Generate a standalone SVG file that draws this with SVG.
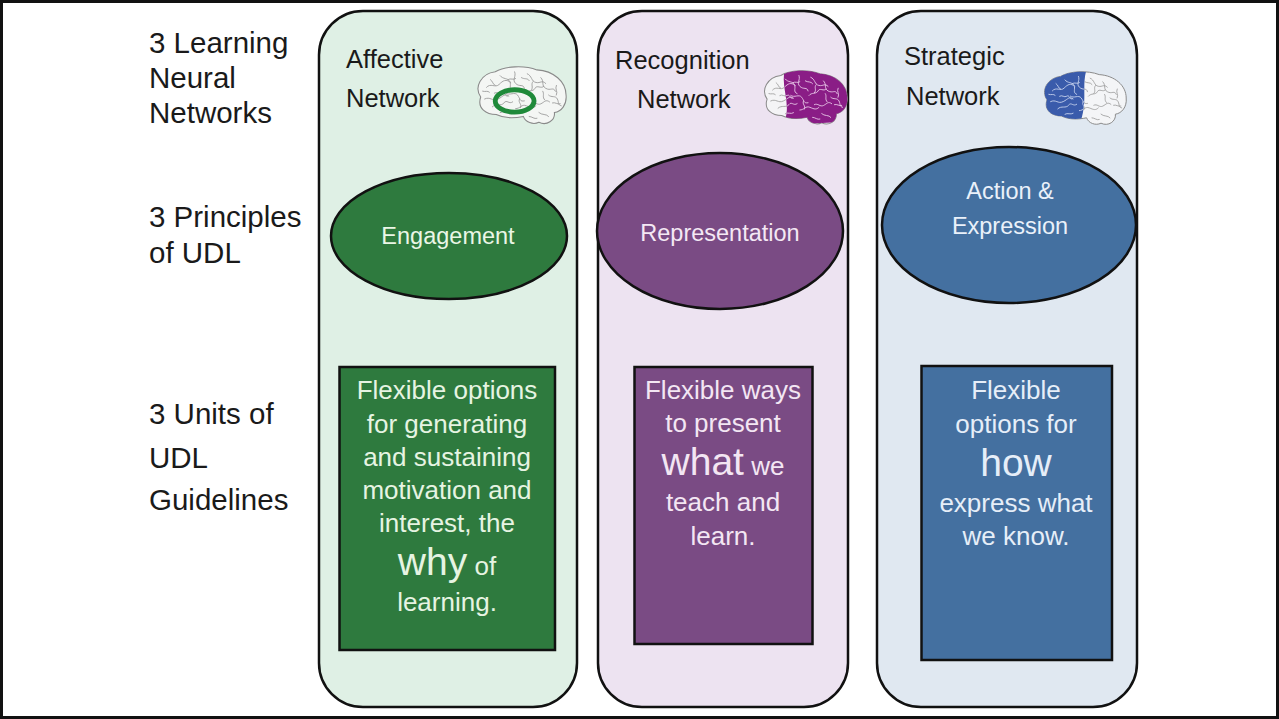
<svg xmlns="http://www.w3.org/2000/svg" width="1279" height="719" viewBox="0 0 1279 719">
<style>
.lbl{font-family:"Liberation Sans",Arial,sans-serif;font-size:29.5px;fill:#1a1a1a}
.net{font-family:"Liberation Sans",Arial,sans-serif;font-size:25.5px;fill:#1a1a1a}
.ell{font-family:"Liberation Sans",Arial,sans-serif;font-size:23.5px;text-anchor:middle}
.box{font-family:"Liberation Sans",Arial,sans-serif;font-size:26px;text-anchor:middle}
.big{font-size:39px}
.col{stroke:#111;stroke-width:2.5}
.shape{stroke:#111;stroke-width:2.5}
.gyri{fill:none;stroke:#9a9a9a;stroke-width:0.9;stroke-linecap:round}
</style>
<defs>
<path id="brainOutline" d="M10,32 C3,22 10,8 25,6 C35,0 55,-1 68,4 C85,5 98,16 98,30 C99,40 93,47 86,48 C87,56 78,62 70,58 C64,61 56,58 54,52 C44,54 34,54 26,50 C16,50 6,44 10,32 Z"/>
<clipPath id="brainClip"><use href="#brainOutline"/></clipPath>
<clipPath id="recRegion"><path d="M30,-2 C24,18 36,34 30,54 C40,60 60,60 100,56 L100,-2 Z"/></clipPath>
<clipPath id="strRegion"><path d="M-2,-2 L54,-2 C48,18 56,34 46,60 L-2,60 Z"/></clipPath>
<g id="gyriPaths">
<path d="M16,22 c4,-5 9,1 13,-3 s7,-6 12,-2"/>
<path d="M30,10 c3,4 8,2 10,6 s-2,8 3,10"/>
<path d="M45,6 c2,5 -3,8 1,12 s8,0 9,5"/>
<path d="M58,8 c5,2 4,8 9,9 s6,-3 10,1"/>
<path d="M72,12 c4,4 0,8 5,11 s8,-2 10,3"/>
<path d="M14,34 c6,-3 8,3 14,0 s6,-6 11,-3"/>
<path d="M22,42 c4,-4 9,0 12,-4 s5,2 9,-1"/>
<path d="M36,28 c4,3 9,-2 12,2 s2,7 7,6"/>
<path d="M56,28 c3,-4 8,-1 10,-5 s6,1 9,-2"/>
<path d="M62,38 c4,-2 6,3 10,1 s5,-5 9,-2"/>
<path d="M80,30 c3,3 7,0 9,4 s0,6 4,7"/>
<path d="M46,44 c5,0 6,-5 11,-3 s7,3 10,0"/>
<path d="M70,48 c3,3 8,1 10,4"/>
<path d="M88,20 c-2,4 2,6 0,10"/>
<path d="M20,14 c3,2 2,5 5,6"/>
<path d="M50,34 c-2,4 3,5 1,9"/>
<path d="M24,28 c3,-2 5,2 8,0 s3,4 6,3"/>
<path d="M38,14 c3,-2 6,1 8,-1"/>
<path d="M64,16 c-3,3 1,6 -2,9"/>
<path d="M84,38 c3,-1 5,2 8,1"/>
<path d="M74,26 c2,3 -1,6 2,9"/>
<path d="M30,48 c3,-2 6,1 9,-1"/>
<path d="M60,52 c3,0 5,3 8,2"/>
<path d="M12,26 c3,1 5,-1 7,1"/>
<path d="M52,12 c3,2 6,0 8,3"/>
</g>
</defs>

<rect x="1.5" y="1.5" width="1276" height="716" fill="#ffffff" stroke="#111" stroke-width="3"/>

<g id="row-labels">
<text class="lbl" x="149" y="53">3 Learning</text>
<text class="lbl" x="149" y="88">Neural</text>
<text class="lbl" x="149" y="123">Networks</text>
<text class="lbl" x="149" y="227">3 Principles</text>
<text class="lbl" x="149" y="263">of UDL</text>
<text class="lbl" x="149" y="424">3 Units of</text>
<text class="lbl" x="149" y="468">UDL</text>
<text class="lbl" x="149" y="510">Guidelines</text>
</g>

<g id="col-affective">
<rect class="col" x="319" y="11" width="258" height="696" rx="44" fill="#dff0e5"/>
<text class="net" x="346" y="68">Affective</text>
<text class="net" x="346" y="107">Network</text>
<g transform="translate(471,66) scale(0.97)">
<use href="#brainOutline" fill="#f4f6f4" stroke="#8a8a8a" stroke-width="1.1"/>
<g clip-path="url(#brainClip)"><use href="#gyriPaths" class="gyri"/></g>
<ellipse cx="45" cy="36" rx="20" ry="11.5" fill="none" stroke="#1f8a3a" stroke-width="5"/>
</g>
</g>

<g id="col-recognition">
<rect class="col" x="598" y="11" width="250" height="696" rx="44" fill="#ede3f1"/>
<text class="net" x="615" y="69">Recognition</text>
<text class="net" x="637" y="108">Network</text>
<g transform="translate(758,70) scale(0.91)">
<use href="#brainOutline" fill="#f4f4f6" stroke="#8a8a8a" stroke-width="1.1"/>
<g clip-path="url(#brainClip)">
<use href="#gyriPaths" class="gyri"/>
<path d="M30,-2 C24,18 36,34 30,54 C40,60 60,60 100,56 L100,-2 Z" fill="#8a1d86"/>
<g clip-path="url(#recRegion)">
<use href="#gyriPaths" fill="none" stroke="#e8c8e8" stroke-width="1" stroke-linecap="round"/>
</g>
</g>
</g>
</g>

<g id="col-strategic">
<rect class="col" x="877" y="11" width="260" height="696" rx="44" fill="#e0e8f1"/>
<text class="net" x="904" y="65">Strategic</text>
<text class="net" x="906" y="105">Network</text>
<g transform="translate(1038,71) scale(0.9)">
<use href="#brainOutline" fill="#f4f5f7" stroke="#8a8a8a" stroke-width="1.1"/>
<g clip-path="url(#brainClip)">
<use href="#gyriPaths" class="gyri"/>
<path d="M-2,-2 L54,-2 C48,18 56,34 46,60 L-2,60 Z" fill="#3a5bab"/>
<g clip-path="url(#strRegion)">
<use href="#gyriPaths" fill="none" stroke="#c8d4ee" stroke-width="1" stroke-linecap="round"/>
</g>
</g>
</g>
</g>

<g id="principle-engagement">
<ellipse class="shape" cx="449" cy="236" rx="118" ry="63" fill="#2e7a3e"/>
<text class="ell" x="448" y="244" fill="#eaf6e6">Engagement</text>
</g>
<g id="principle-representation">
<ellipse class="shape" cx="720" cy="231" rx="123" ry="78" fill="#7a4b84"/>
<text class="ell" x="720" y="241" fill="#f4e8f4">Representation</text>
</g>
<g id="principle-action">
<ellipse class="shape" cx="1009" cy="225" rx="127" ry="78" fill="#4470a0"/>
<text class="ell" x="1010" y="199" fill="#eaf1fa">Action &amp;</text>
<text class="ell" x="1010" y="234" fill="#eaf1fa">Expression</text>
</g>

<g id="unit-why">
<rect class="shape" x="339.5" y="367" width="215.5" height="283" fill="#2e7a3e"/>
<g fill="#e6f4e2">
<text class="box" x="447" y="399">Flexible options</text>
<text class="box" x="447" y="433">for generating</text>
<text class="box" x="447" y="466">and sustaining</text>
<text class="box" x="447" y="499">motivation and</text>
<text class="box" x="447" y="532">interest, the</text>
<text class="box" x="447" y="575"><tspan class="big">why</tspan> of</text>
<text class="box" x="447" y="611">learning.</text>
</g>
</g>

<g id="unit-what">
<rect class="shape" x="634.5" y="367" width="178" height="277" fill="#7a4b84"/>
<g fill="#f3e6f3">
<text class="box" x="723" y="399">Flexible ways</text>
<text class="box" x="723" y="432">to present</text>
<text class="box" x="723" y="475"><tspan class="big">what</tspan> we</text>
<text class="box" x="723" y="511">teach and</text>
<text class="box" x="723" y="545">learn.</text>
</g>
</g>

<g id="unit-how">
<rect class="shape" x="921.5" y="366" width="190.5" height="294" fill="#4470a0"/>
<g fill="#e6eef8">
<text class="box" x="1016" y="399">Flexible</text>
<text class="box" x="1016" y="433">options for</text>
<text class="box" x="1016" y="476"><tspan class="big">how</tspan></text>
<text class="box" x="1016" y="512">express what</text>
<text class="box" x="1016" y="545">we know.</text>
</g>
</g>

<g id="connectors"></g>
</svg>
